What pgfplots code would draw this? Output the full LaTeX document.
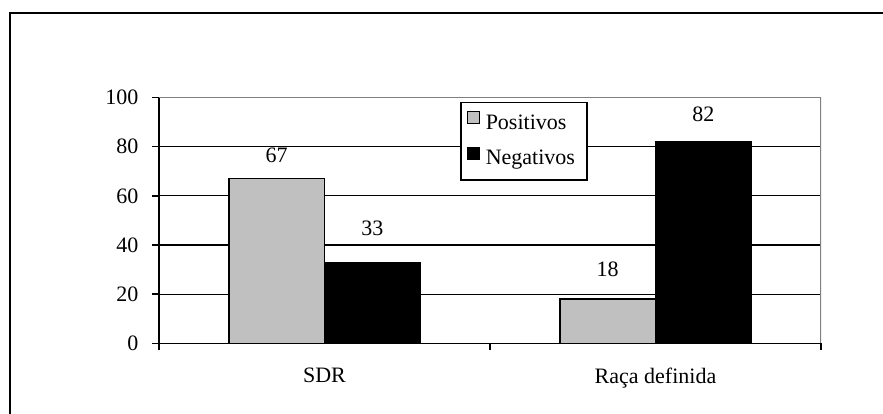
\documentclass[border=0pt]{standalone}
\usepackage{fontspec}
\setmainfont{Liberation Serif}
\usepackage{pgfplots}
\pgfplotsset{compat=1.18}
\definecolor{barGray}{RGB}{192,192,192}
\definecolor{axGray}{RGB}{128,128,128}
\begin{document}
\fontsize{11bp}{13bp}\selectfont
\begin{tikzpicture}
\useasboundingbox (0,0) rectangle (441.5bp,-207bp);
\draw[line width=1.1bp] (5bp,-207bp) -- (5bp,-6.5bp) -- (441.5bp,-6.5bp);
\begin{axis}[
  at={(79.5bp,-171.65bp)}, anchor=south west,
  scale only axis, width=331bp, height=122.9bp,
  xmin=-0.5, xmax=1.5, ymin=0, ymax=100,
  axis lines*=left,
  axis line style={line width=0.75bp, black},
  ytick={0,20,40,60,80,100},
  ymajorgrids, grid style={line width=0.6bp, black},
  xtick={-0.5,0.5,1.5}, xticklabels={},
  extra x ticks={0,1}, extra x tick labels={SDR, Raça definida},
  extra x tick style={tick style={draw=none}},
  tick align=outside, major tick length=3.5bp,
  tick style={line width=0.75bp, black},
  yticklabel style={xshift=-3bp},
  xticklabel style={yshift=-5bp},
  /pgf/number format/assume math mode=true,
  legend style={at={(0.4547,0.9837)}, anchor=north west, draw=black, line width=0.75bp,
    row sep=5.5bp, inner xsep=3bp, inner ysep=4.5bp, nodes={inner xsep=3bp, inner ysep=1.5bp}},
  legend cell align=left,
  legend image code/.code={\draw[#1, line width=0.5bp] (0bp,0bp) rectangle (6bp,6bp);},
]
\addplot[ybar, bar width=47.75bp, bar shift=-23.875bp, fill=barGray, draw=black, line width=0.6bp]
  coordinates {(0,67) (1,18)};
\addlegendentry{Positivos}
\addplot[ybar, bar width=47.75bp, bar shift=23.875bp, fill=black, draw=black, line width=0.6bp]
  coordinates {(0,33) (1,82)};
\addlegendentry{Negativos}
\addplot[draw=none, mark=none, nodes near coords, point meta=explicit symbolic,
  nodes near coords style={inner sep=0pt, anchor=south}, forget plot]
  table[meta=lab] {
x y lab
-0.1443 73.5 67
0.1443 43.8 33
0.8557 26.8 18
1.1443 89.8 82
};
\draw[axGray, line width=0.75bp] (rel axis cs:0,1) -- (rel axis cs:1,1) -- (rel axis cs:1,0);
\end{axis}
\end{tikzpicture}
\end{document}
